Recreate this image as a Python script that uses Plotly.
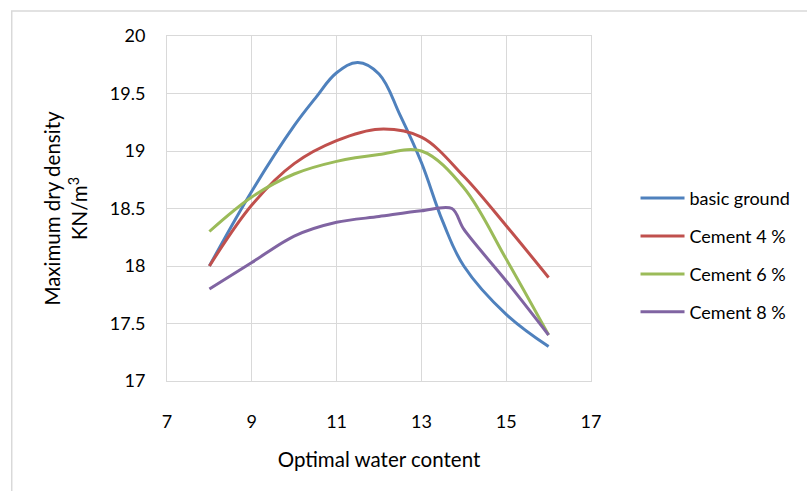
import plotly.graph_objects as go

# Data
basic_x = [8, 9, 10, 10.5, 11, 11.5, 12, 12.5, 13, 13.5, 14, 15, 16]
basic_y = [18.0, 18.65, 19.22, 19.46, 19.68, 19.77, 19.67, 19.31, 18.9, 18.39, 18.0, 17.58, 17.3]

c4_x = [8, 9, 10, 11, 12, 13, 14, 15, 16]
c4_y = [18.0, 18.53, 18.89, 19.09, 19.19, 19.12, 18.78, 18.35, 17.9]

c6_x = [8, 9, 10, 11, 12, 13, 14, 15, 16]
c6_y = [18.3, 18.6, 18.8, 18.91, 18.97, 19.0, 18.68, 18.06, 17.4]

c8_x = [8, 9, 10, 11, 12, 13, 13.72, 14, 15, 16]
c8_y = [17.8, 18.03, 18.26, 18.38, 18.43, 18.48, 18.5, 18.32, 17.87, 17.4]

names = ["basic ground", "Cement 4 %", "Cement 6 %", "Cement 8 %"]
colors = ["#4F81BD", "#C0504D", "#9BBB59", "#8064A2"]
smooth = [1.1, 1.0, 1.0, 0.9]
series = [(basic_x, basic_y), (c4_x, c4_y), (c6_x, c6_y), (c8_x, c8_y)]

x_ticks = [7, 9, 11, 13, 15, 17]
y_ticks = [17, 17.5, 18, 18.5, 19, 19.5, 20]

FONT = "Lato"
fig = go.Figure()
for (xs, ys), name, col, sm in zip(series, names, colors, smooth):
    fig.add_trace(go.Scatter(
        x=xs, y=ys, name=name, mode="lines", legendgroup=name,
        line=dict(color=col, width=3, shape="spline", smoothing=sm),
    ))

grid = "#d9d9d9"
fig.update_layout(
    width=807, height=491,
    margin=dict(l=167, r=214, t=36, b=110),
    paper_bgcolor="white", plot_bgcolor="white",
    font=dict(family=FONT, size=18, color="#000000"),
    showlegend=True,
    legend=dict(
        x=1.105, xanchor="left", y=0.364, yanchor="middle",
        font=dict(family=FONT, size=18, color="#000000"),
        tracegroupgap=11.5, itemwidth=44, bgcolor="rgba(0,0,0,0)",
    ),
    xaxis=dict(
        range=[7, 17], tickvals=x_ticks, ticktext=[str(v) for v in x_ticks],
        showgrid=True, gridcolor=grid, gridwidth=1,
        showline=True, linecolor=grid, linewidth=1, mirror=True,
        zeroline=False, ticks="", ticklabelstandoff=24,
        title=dict(text="Optimal water content", standoff=22,
                   font=dict(family=FONT, size=20.5)),
    ),
    yaxis=dict(
        range=[17, 20], tickvals=y_ticks,
        ticktext=["17", "17.5", "18", "18.5", "19", "19.5", "20"],
        showgrid=True, gridcolor=grid, gridwidth=1,
        showline=True, linecolor=grid, linewidth=1, mirror=True,
        zeroline=False, ticks="", ticklabelstandoff=17,
        title=dict(text="Maximum dry density<br>KN/m<sup>3</sup>", standoff=16,
                   font=dict(family=FONT, size=20.5)),
    ),
    shapes=[dict(type="rect", xref="paper", yref="paper",
                 x0=-0.3662, x1=1.7, y0=-0.6, y1=1.0725,
                 line=dict(color=grid, width=1.5), fillcolor="rgba(0,0,0,0)",
                 layer="below")],
)

fig.write_html("out.html")
